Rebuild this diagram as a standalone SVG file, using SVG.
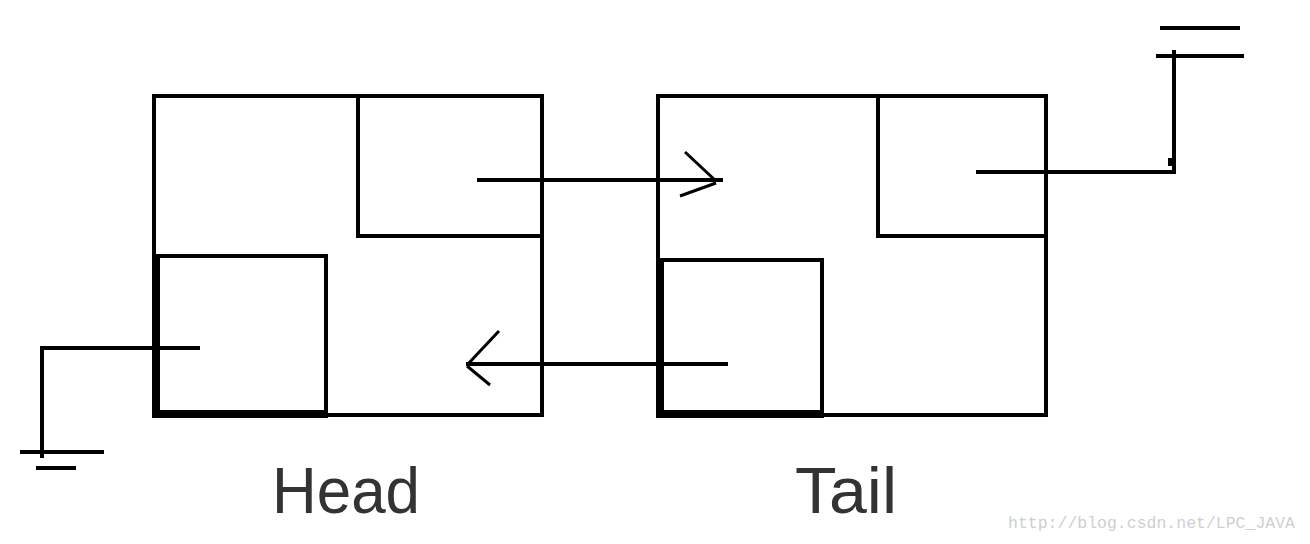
<svg xmlns="http://www.w3.org/2000/svg" width="1310" height="544" viewBox="0 0 1310 544">
<style>
.ln{stroke:#000;stroke-width:4;fill:none}
.ah{stroke:#000;stroke-width:3;fill:none}
.lbl{font-family:"Liberation Sans",Arial,sans-serif;font-size:64px;fill:#333}
.wm{font-family:"Liberation Mono","Courier New",monospace;font-size:17px;fill:#cfcfcf}
</style>
<rect width="1310" height="544" fill="#fff"/>
<g id="head">
<rect class="ln" x="154" y="96" width="388" height="319"/>
<polyline class="ln" points="358,96 358,236 542,236"/>
<polyline class="ln" points="156,256 326,256 326,414"/>
<rect x="152" y="254" width="8" height="164" fill="#000"/>
<rect x="152" y="410" width="176" height="8" fill="#000"/>
<text class="lbl" x="346" y="513" text-anchor="middle" textLength="148" lengthAdjust="spacingAndGlyphs">Head</text>
</g>
<g id="tail">
<rect class="ln" x="658" y="96" width="388" height="319"/>
<polyline class="ln" points="878,96 878,236 1046,236"/>
<polyline class="ln" points="660,260 822,260 822,414"/>
<rect x="656" y="258" width="8" height="160" fill="#000"/>
<rect x="656" y="410" width="168" height="8" fill="#000"/>
<text class="lbl" x="846" y="513" text-anchor="middle" textLength="102" lengthAdjust="spacingAndGlyphs">Tail</text>
</g>
<g id="null-left">
<polyline class="ln" points="200,348 42,348 42,458"/>
<line class="ln" x1="20" y1="452" x2="104" y2="452"/>
<line class="ln" x1="36" y1="468" x2="76" y2="468"/>
</g>
<g id="null-right">
<polyline class="ln" points="976,172 1174,172 1174,50"/>
<rect x="1168" y="158" width="4" height="8" fill="#000"/>
<line class="ln" x1="1160" y1="28" x2="1240" y2="28"/>
<line class="ln" x1="1156" y1="56" x2="1244" y2="56"/>
</g>
<g id="connectors">
<line class="ln" x1="477" y1="180" x2="723" y2="180"/>
<line class="ah" x1="685" y1="152" x2="716" y2="181"/>
<line class="ah" x1="680" y1="196" x2="716" y2="183"/>
<line class="ln" x1="728" y1="364" x2="466" y2="364"/>
<line class="ah" x1="499" y1="331" x2="467" y2="365"/>
<line class="ah" x1="490" y1="385" x2="467" y2="366"/>
</g>
<text class="wm" x="1008" y="528" textLength="287" lengthAdjust="spacingAndGlyphs">http://blog.csdn.net/LPC_JAVA</text>
</svg>
